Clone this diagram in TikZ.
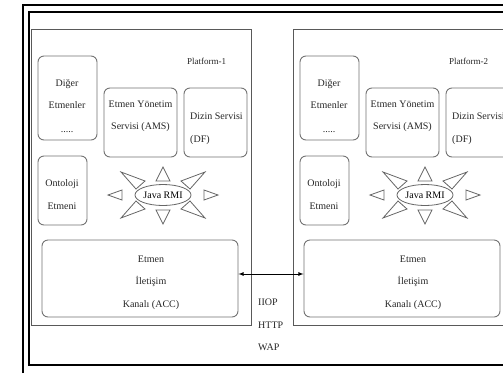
\documentclass[tikz,border=0pt]{standalone}
\usepackage{fontspec}
\setmainfont{Liberation Serif}
\usetikzlibrary{shapes.geometric}
\begin{document}
\begin{tikzpicture}[x=1pt,y=-1pt,
  rbox/.style={draw=black!55, line width=0.9pt, rounded corners=6pt, inner sep=0pt},
  pbox/.style={draw=black!65, line width=1pt},
  txt/.style={inner sep=0pt, font=\fontsize{10}{22.5}\selectfont, text=black!85},
  ray/.style={draw=black!60, line width=0.8pt, line join=miter}]
\clip (0,0) rectangle (503,373);
\fill[white] (0,0) rectangle (503,373);
% outer frames
\draw[line width=1.4pt] (23,373) -- (23,5) -- (503,5);
\draw[line width=1.8pt] (503,12) -- (29,12) -- (29,365) -- (503,365);
\foreach \i/\dx in {1/0,2/262}{
 \begin{scope}[xshift=\dx pt]
  \draw[pbox] (31,29) rectangle (251,325);
  \node[txt, anchor=west, font=\fontsize{9}{10}\selectfont] (pl\i) at (187,61) {Platform-\i};
  \node[rbox, minimum width=59, minimum height=84] (d\i) at (67.5,98) {};
  \node[txt, align=center] (d\i t) at (67,94) {Diğer\\Etmenler};
  \node[txt] (d\i dots) at (67,132) {.....};
  \node[rbox, minimum width=73, minimum height=69] (ams\i) at (140.5,122.5) {};
  \node[txt, align=center] (ams\i t) at (140.5,116) {Etmen Yönetim\\Servisi (AMS)};
  \node[rbox, minimum width=63, minimum height=69] (df\i) at (215.5,122.5) {};
  \node[txt, align=left, anchor=west] (df\i t) at (190,128.5) {Dizin Servisi\\(DF)};
  \node[rbox, minimum width=49, minimum height=69] (ont\i) at (62.5,190.5) {};
  \node[txt, align=center] (ont\i t) at (62,194.5) {Ontoloji\\Etmeni};
  \node[draw=black!60, line width=0.8pt, ellipse, minimum width=56, minimum height=21, inner sep=0pt, font=\fontsize{10}{11}\selectfont] (rmi\i) at (163,195) {Java RMI};
  \begin{scope}[shift={(163,195)}]
   \draw[ray] (-7,-14) -- (0,-28) -- (7,-14) -- cycle;
   \draw[ray] (-7,15) -- (0,29) -- (7,15) -- cycle;
   \draw[ray] (-41,-5) -- (-55,0) -- (-41,5) -- cycle;
   \draw[ray] (41,-5) -- (55,0) -- (41,5) -- cycle;
   \draw[ray] (-18,-14) -- (-42,-23) -- (-27,-6) -- cycle;
   \draw[ray] (18,-14) -- (42,-23) -- (27,-6) -- cycle;
   \draw[ray] (-18,14) -- (-42,23) -- (-27,6) -- cycle;
   \draw[ray] (18,14) -- (42,23) -- (27,6) -- cycle;
  \end{scope}
  \node[rbox, minimum width=196, minimum height=77] (acc\i) at (140,278.5) {};
  \node[txt, align=center] (acc\i t) at (151,282.5) {Etmen\\İletişim\\Kanalı (ACC)};
 \end{scope}
}
\draw[<->, >=latex, line width=0.8pt] ([yshift=4.5pt]acc1.east) -- ([yshift=4.5pt]acc2.west);
\node[txt, anchor=west] (iiop) at (258,302) {IIOP};
\node[txt, anchor=west] (http) at (258,325) {HTTP};
\node[txt, anchor=west] (wap) at (258,347) {WAP};
\end{tikzpicture}
\end{document}
